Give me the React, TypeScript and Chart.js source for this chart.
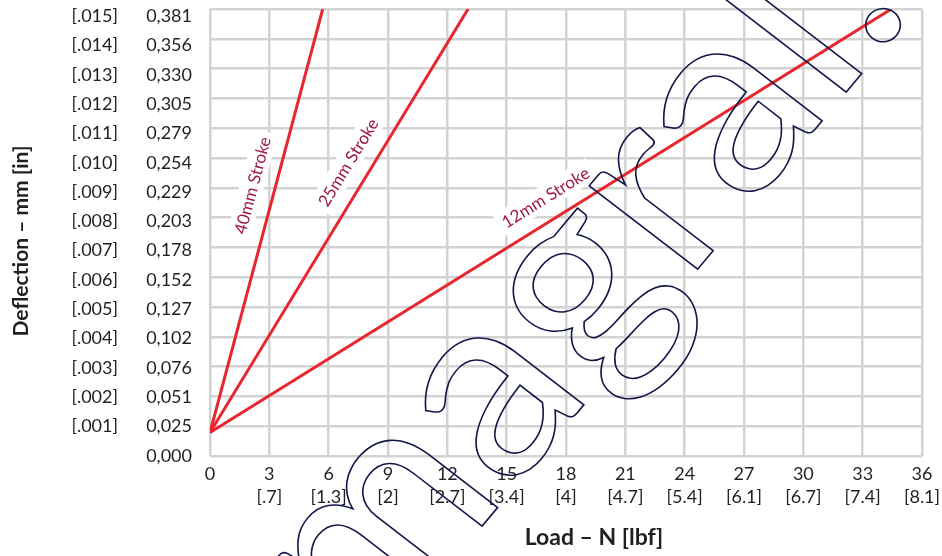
import React, { useEffect, useRef } from "react";
import { Chart, registerables } from "chart.js";

Chart.register(...registerables);

// ---- data ----
const xTicks = [0, 3, 6, 9, 12, 15, 18, 21, 24, 27, 30, 33, 36];
const xTickLbf = ["", "[.7]", "[1.3]", "[2]", "[2.7]", "[3.4]", "[4]", "[4.7]", "[5.4]", "[6.1]", "[6.7]", "[7.4]", "[8.1]"];
const yTicks = [0, 0.0254, 0.0508, 0.0762, 0.1016, 0.127, 0.1524, 0.1778, 0.2032, 0.2286, 0.254, 0.2794, 0.3048, 0.3302, 0.3556, 0.381];
const yTickMm = ["0,000", "0,025", "0,051", "0,076", "0,102", "0,127", "0,152", "0,178", "0,203", "0,229", "0,254", "0,279", "0,305", "0,330", "0,356", "0,381"];
const yTickIn = ["", "[.001]", "[.002]", "[.003]", "[.004]", "[.005]", "[.006]", "[.007]", "[.008]", "[.009]", "[.010]", "[.011]", "[.012]", "[.013]", "[.014]", "[.015]"];

const seriesNames = ["40mm Stroke", "25mm Stroke", "12mm Stroke"];
const load40 = [0, 5.7];
const defl40 = [0.02, 0.381];
const load25 = [0, 13.05];
const defl25 = [0.02, 0.381];
const load12 = [0, 34.45];
const defl12 = [0.02, 0.381];
const labelAlong = [0.57, 0.61, 0.51];

const xTitle = "Load – N [lbf]";
const yTitle = "Deflection – mm [in]";
const watermark = "magral.";

const RED = "#e8262d";
const GRID = "#d3d3d3";
const TEXT = "#231f20";
const LABEL = "#a0174a";
const FONT = "Lato";

function pts(xs: number[], ys: number[]) {
  return xs.map((x, i) => ({ x, y: ys[i] }));
}

const lineLabels = {
  id: "lineLabels",
  beforeDatasetsDraw(chart: any) {
    const ctx = chart.ctx;
    chart.data.datasets.forEach((ds: any, i: number) => {
      const meta = chart.getDatasetMeta(i);
      const p0 = meta.data[0];
      const p1 = meta.data[meta.data.length - 1];
      const dx = p1.x - p0.x;
      const dy = p1.y - p0.y;
      const len = Math.hypot(dx, dy);
      const ux = dx / len;
      const uy = dy / len;
      const t = labelAlong[i];
      const off = 23;
      const cx = p0.x + dx * t + uy * off;
      const cy = p0.y + dy * t - ux * off;
      ctx.save();
      ctx.translate(cx, cy);
      ctx.rotate(Math.atan2(dy, dx));
      ctx.font = `17px ${FONT}`;
      const w = ctx.measureText(ds.label).width;
      ctx.fillStyle = "#ffffff";
      ctx.fillRect(-w / 2 - 5, -12, w + 10, 24);
      ctx.fillStyle = LABEL;
      ctx.textAlign = "center";
      ctx.textBaseline = "middle";
      ctx.fillText(ds.label, 0, 1);
      ctx.restore();
    });
  },
};

const titlesAndMark = {
  id: "titlesAndMark",
  afterDraw(chart: any) {
    const ctx = chart.ctx;
    const area = chart.chartArea;
    ctx.save();
    ctx.fillStyle = TEXT;
    ctx.textAlign = "center";
    ctx.textBaseline = "middle";
    ctx.font = `bold 23px ${FONT}`;
    ctx.fillText(xTitle, area.right - 328, 538);
    ctx.font = `bold 21px ${FONT}`;
    ctx.save();
    ctx.translate(21, 241);
    ctx.rotate(-Math.PI / 2);
    ctx.fillText(yTitle, 0, 0);
    ctx.restore();
    ctx.restore();

    // watermark outline
    ctx.save();
    const F = 270;
    ctx.font = `${F}px ${FONT}`;
    (ctx as any).letterSpacing = "0px";
    const wAll = ctx.measureText(watermark).width;
    const wNo = ctx.measureText(watermark.slice(0, -1)).width;
    const along = (wAll + wNo) / 2;
    const ang = (-50 * Math.PI) / 180;
    const dxv = Math.cos(ang);
    const dyv = Math.sin(ang);
    // letter "up" direction (slightly leaning)
    const upx = -0.793;
    const upy = -0.61;
    const r = 15;
    const bx = 883 - upx * r;
    const by = 25 - upy * r;
    const ox = bx - along * dxv;
    const oy = by - along * dyv;
    ctx.transform(dxv, dyv, -upx, -upy, ox, oy);
    ctx.strokeStyle = "#121748";
    ctx.lineWidth = 1.6;
    ctx.textAlign = "left";
    ctx.textBaseline = "alphabetic";
    ctx.strokeText(watermark, 0, 0);
    ctx.restore();
  },
};

export default function App() {
  const ref = useRef<HTMLCanvasElement | null>(null);
  useEffect(() => {
    document.body.style.margin = "0";
    const canvas = ref.current!;
    const tickFont = { family: FONT, size: 18 };
    const chart = new Chart(canvas, {
      type: "line",
      data: {
        datasets: [
          { label: seriesNames[0], data: pts(load40, defl40) },
          { label: seriesNames[1], data: pts(load25, defl25) },
          { label: seriesNames[2], data: pts(load12, defl12) },
        ].map((d) => ({
          ...d,
          borderColor: RED,
          backgroundColor: RED,
          borderWidth: 3,
          pointRadius: 0,
          fill: false,
          tension: 0,
        })),
      },
      options: {
        responsive: false,
        animation: false,
        layout: { padding: { top: 9, right: 20, left: 0, bottom: 0 } },
        plugins: {
          legend: { display: false },
          tooltip: { enabled: false },
          title: { display: false },
        },
        scales: {
          x: {
            type: "linear",
            position: "bottom",
            min: 0,
            max: 36,
            border: { display: false },
            grid: { color: GRID, lineWidth: 2.5, drawTicks: false },
            afterBuildTicks: (s: any) => {
              s.ticks = xTicks.map((v) => ({ value: v }));
            },
            afterFit: (s: any) => {
              s.height = 100;
              s.paddingLeft = 0;
              s.paddingRight = 0;
            },
            ticks: {
              autoSkip: false,
              maxRotation: 0,
              minRotation: 0,
              padding: 7,
              color: TEXT,
              font: { ...tickFont, lineHeight: 1.28 },
              callback: (_v: any, i: number) => (i === 0 ? String(xTicks[0]) : [String(xTicks[i]), xTickLbf[i]]),
            },
          },
          y: {
            type: "linear",
            position: "left",
            weight: 0,
            min: 0,
            max: 0.381,
            border: { display: false },
            grid: { color: GRID, lineWidth: 2.5, drawTicks: false },
            afterBuildTicks: (s: any) => {
              s.ticks = yTicks.map((v) => ({ value: v }));
            },
            afterFit: (s: any) => {
              s.width = 0;
              s.paddingTop = 0;
              s.paddingBottom = 0;
            },
            ticks: { display: false },
          },
          yMm: {
            type: "linear",
            position: "left",
            weight: 1,
            min: 0,
            max: 0.3871,
            border: { display: false },
            grid: { display: false, drawTicks: false },
            afterBuildTicks: (s: any) => {
              s.ticks = yTicks.map((v) => ({ value: v }));
            },
            afterFit: (s: any) => {
              s.width = 80;
              s.paddingTop = 0;
              s.paddingBottom = 0;
            },
            ticks: {
              autoSkip: false,
              padding: 18,
              color: TEXT,
              font: tickFont,
              callback: (_v: any, i: number) => yTickMm[i],
            },
          },
          yIn: {
            type: "linear",
            position: "left",
            weight: 2,
            min: 0,
            max: 0.3871,
            border: { display: false },
            grid: { display: false, drawTicks: false },
            afterBuildTicks: (s: any) => {
              s.ticks = yTicks.map((v) => ({ value: v }));
            },
            afterFit: (s: any) => {
              s.width = 130;
              s.paddingTop = 0;
              s.paddingBottom = 0;
            },
            ticks: {
              autoSkip: false,
              padding: 12,
              color: TEXT,
              font: tickFont,
              callback: (_v: any, i: number) => yTickIn[i],
            },
          },
        },
      } as any,
      plugins: [lineLabels, titlesAndMark],
    });
    return () => chart.destroy();
  }, []);
  return (
    <div style={{ width: 942, height: 556 }}>
      <canvas ref={ref} width={942} height={556} style={{ display: "block" }} />
    </div>
  );
}
